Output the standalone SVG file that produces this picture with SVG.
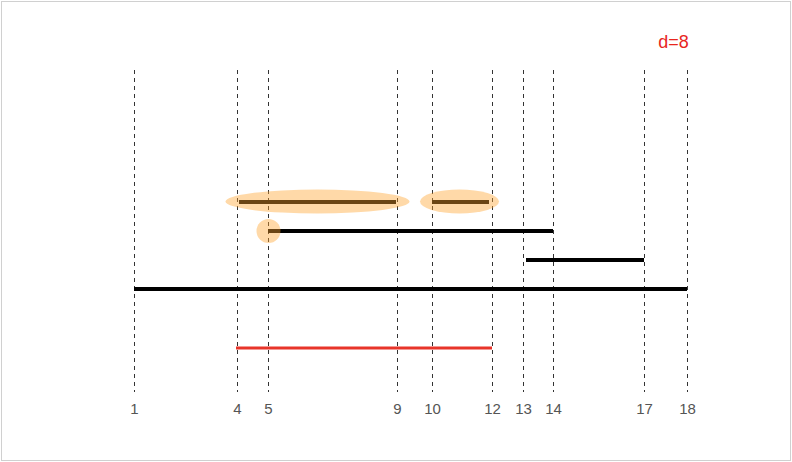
<svg xmlns="http://www.w3.org/2000/svg" width="792" height="462" viewBox="0 0 792 462">
<style>
.grid line{stroke:#333;stroke-width:1;stroke-dasharray:4 4}
.bar{stroke:#000;stroke-width:4}
.hl{fill:#ffa430;opacity:0.42}
.lbl{font-family:"Liberation Sans",Arial,sans-serif;font-size:15px;fill:#555;text-anchor:middle}
</style>
<rect x="1.5" y="1.5" width="789" height="459" fill="#fff" stroke="#d0d0d0" stroke-width="1"/>
<g id="grid" class="grid">
<line x1="134.5" y1="70" x2="134.5" y2="392"/>
<line x1="237.5" y1="70" x2="237.5" y2="392"/>
<line x1="268.5" y1="70" x2="268.5" y2="392"/>
<line x1="397.5" y1="70" x2="397.5" y2="392"/>
<line x1="432.5" y1="70" x2="432.5" y2="392"/>
<line x1="492.5" y1="70" x2="492.5" y2="392"/>
<line x1="523.5" y1="70" x2="523.5" y2="392"/>
<line x1="553.5" y1="70" x2="553.5" y2="392"/>
<line x1="644.5" y1="70" x2="644.5" y2="392"/>
<line x1="687.5" y1="70" x2="687.5" y2="392"/>
</g>
<g id="bars">
<line class="bar" x1="239" y1="202" x2="396" y2="202"/>
<line class="bar" x1="432" y1="202" x2="489" y2="202"/>
<line class="bar" x1="268" y1="231" x2="553" y2="231"/>
<line class="bar" x1="526" y1="260" x2="644" y2="260"/>
<line class="bar" x1="134" y1="289" x2="687" y2="289"/>
</g>
<g id="highlights">
<ellipse class="hl" cx="317.5" cy="201.5" rx="92" ry="12"/>
<ellipse class="hl" cx="459.5" cy="201.5" rx="39.5" ry="12"/>
<circle class="hl" cx="268.5" cy="231" r="12"/>
</g>
<g id="result">
<line x1="236" y1="348" x2="492" y2="348" stroke="#e8352a" stroke-width="3"/>
</g>
<g id="labels">
<text class="lbl" x="134.5" y="413.5">1</text>
<text class="lbl" x="237.5" y="413.5">4</text>
<text class="lbl" x="268.5" y="413.5">5</text>
<text class="lbl" x="397.5" y="413.5">9</text>
<text class="lbl" x="432.5" y="413.5">10</text>
<text class="lbl" x="492.5" y="413.5">12</text>
<text class="lbl" x="523.5" y="413.5">13</text>
<text class="lbl" x="553.5" y="413.5">14</text>
<text class="lbl" x="644.5" y="413.5">17</text>
<text class="lbl" x="687.5" y="413.5">18</text>
<text x="673.5" y="48" font-family="Liberation Sans,Arial,sans-serif" font-size="18" fill="#e8261e" text-anchor="middle">d=8</text>
</g>
</svg>
